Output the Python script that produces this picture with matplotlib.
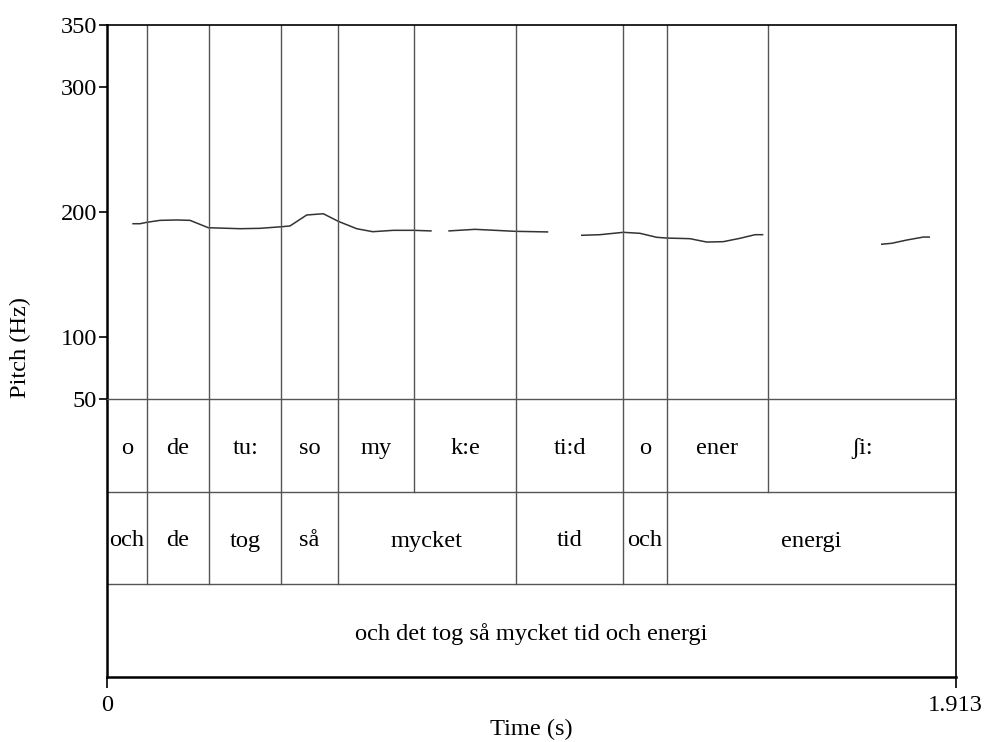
import numpy as np
import matplotlib
matplotlib.use("Agg")
import matplotlib.pyplot as plt
from matplotlib import transforms

# ---- data ----
duration = 1.913
pitch_ticks = [50, 100, 200, 300, 350]

# pitch contour segments (time s, Hz)
seg1_t = [0.0577, 0.0750, 0.0901, 0.1201, 0.1577, 0.1877, 0.2289, 0.3004, 0.3455,
          0.3943, 0.4130, 0.4507, 0.4881, 0.5219, 0.5633, 0.5994, 0.6458, 0.6909, 0.7323]
seg1_f = [190.6, 190.6, 191.7, 193.3, 193.6, 193.3, 187.4, 186.6, 186.9,
          188.2, 188.8, 197.6, 198.6, 192.5, 186.6, 184.2, 185.3, 185.3, 184.8]
seg2_t = [0.7697, 0.8299, 0.9200, 0.9950]
seg2_f = [184.8, 186.1, 184.5, 184.0]
seg3_t = [1.0687, 1.1115, 1.1640, 1.2017, 1.2393, 1.2618, 1.3143, 1.3520, 1.3894,
          1.4270, 1.4608, 1.4795]
seg3_f = [181.3, 181.8, 183.7, 182.9, 179.7, 179.1, 178.6, 175.9, 176.2,
          178.9, 181.8, 181.8]
seg4_t = [1.7447, 1.7688, 1.8026, 1.8400, 1.8551]
seg4_f = [174.1, 174.9, 177.5, 179.9, 179.9]

# text grid tiers
tier1_bounds = [0.0, 0.0901, 0.2312, 0.3928, 0.5219, 0.6930, 0.9216, 1.1641, 1.2619, 1.4894, 1.913]
tier1_labels = ["o", "de", "tu:", "so", "my", "k:e", "ti:d", "o", "ener", "ʃi:"]
tier2_bounds = [0.0, 0.0901, 0.2312, 0.3928, 0.5219, 0.9216, 1.1641, 1.2619, 1.913]
tier2_labels = ["och", "de", "tog", "så", "mycket", "tid", "och", "energi"]
tier3_bounds = [0.0, 1.913]
tier3_labels = ["och det tog så mycket tid och energi"]

# ---- style ----
plt.rcParams['font.family'] = ['Liberation Serif', 'DejaVu Serif']
FS = 17.6
GRAY = '#555555'

W, H = 984, 742
fig = plt.figure(figsize=(W / 100, H / 100), dpi=100)

x0, x1 = 106.7, 955.7
y_top, y_pitch_bot, y_bot = 25, 399, 677

def fx(px):
    return px / W

def fy(py):
    return 1 - py / H

axp = fig.add_axes([fx(x0), fy(y_pitch_bot), fx(x1 - x0), (y_pitch_bot - y_top) / H])
axt = fig.add_axes([fx(x0), fy(y_bot), fx(x1 - x0), (y_bot - y_pitch_bot) / H])

# pitch axes
axp.set_xlim(0, duration)
axp.set_ylim(50, 350)
for t, f in [(seg1_t, seg1_f), (seg2_t, seg2_f), (seg3_t, seg3_f), (seg4_t, seg4_f)]:
    axp.plot(t, f, color='#333333', lw=1.1, solid_capstyle='butt')
for b in tier1_bounds[1:-1]:
    axp.axvline(b, color=GRAY, lw=1.0)
axp.set_yticks(pitch_ticks)
axp.set_yticklabels([str(v) for v in pitch_ticks], fontsize=FS)
axp.set_xticks([])
axp.tick_params(axis='y', direction='out', length=6, width=1.2, pad=1)
axp.spines['bottom'].set_visible(False)
axp.spines['left'].set_linewidth(1.8)
axp.spines['top'].set_linewidth(1.2)
axp.spines['right'].set_linewidth(1.2)

# tier axes
axt.set_xlim(0, duration)
axt.set_ylim(0, 3)
axt.set_yticks([])
axt.set_xticks([0, duration])
axt.set_xticklabels(["0", "1.913"], fontsize=FS)
axt.tick_params(axis='x', direction='out', length=8, width=1.2, pad=5)
axt.spines['top'].set_color(GRAY)
axt.spines['top'].set_linewidth(1.0)
axt.spines['left'].set_linewidth(1.8)
axt.spines['bottom'].set_linewidth(1.8)
axt.spines['right'].set_linewidth(1.2)

txt_tr = transforms.offset_copy(axt.transData, fig=fig, x=0, y=-3, units='dots')
tiers = [(tier1_bounds, tier1_labels), (tier2_bounds, tier2_labels), (tier3_bounds, tier3_labels)]
for i, (bounds, labels) in enumerate(tiers):
    ytop = 3 - i
    ybot = 2 - i
    if i > 0:
        axt.axhline(ytop, color=GRAY, lw=1.0)
    for b in bounds[1:-1]:
        axt.plot([b, b], [ybot, ytop], color=GRAY, lw=1.0)
    for k, lab in enumerate(labels):
        xm = (bounds[k] + bounds[k + 1]) / 2
        axt.text(xm, (ytop + ybot) / 2, lab, ha='center', va='center', fontsize=FS,
                 transform=txt_tr)

fig.text(fx((x0 + x1) / 2), fy(729), "Time (s)", ha='center', va='center', fontsize=FS)
fig.text(fx(20), fy(348), "Pitch (Hz)", ha='center', va='center', rotation=90, fontsize=FS)

fig.savefig("out.png", dpi=100)
